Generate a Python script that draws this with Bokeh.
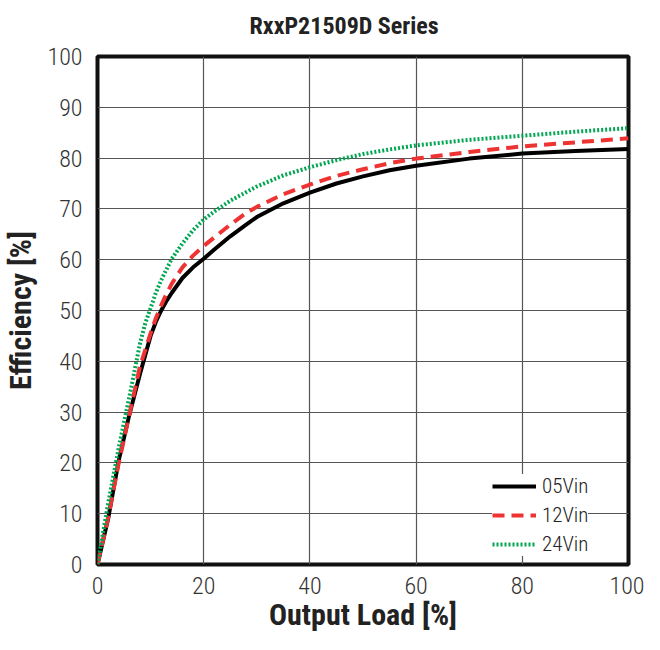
from bokeh.plotting import figure
from bokeh.models import Legend, LegendItem, FixedTicker, Range1d, Title
from bokeh.embed import file_html
from bokeh.resources import INLINE

load_05 = [0, 2, 4, 6, 8, 10, 11, 12, 13, 14, 16, 18, 20, 22, 25, 28, 30, 35, 40, 45, 50, 55, 60, 70, 80, 90, 100]
eff_05vin = [0, 9, 20.5, 29.5, 37.5, 45, 47.8, 50, 51.9, 53.5, 56.4, 58.5, 60.2, 62, 64.6, 66.9, 68.4, 71.1, 73.2, 75, 76.4, 77.6, 78.5, 79.9, 80.9, 81.4, 81.8]
load_12 = [0, 2, 4, 6, 8, 10, 11, 12, 13, 14, 16, 18, 20, 22, 25, 28, 30, 35, 40, 45, 50, 55, 60, 70, 80, 90, 100]
eff_12vin = [0, 9.2, 20, 29.5, 39, 45.5, 48.5, 51, 53.3, 55.3, 58.5, 60.8, 62.7, 64.4, 66.9, 69.2, 70.4, 72.9, 74.8, 76.5, 77.8, 79, 79.9, 81.2, 82.3, 83.1, 83.9]
load_24 = [0, 2, 4, 6, 8, 9, 10, 11, 12, 14, 16, 18, 20, 22, 25, 28, 30, 35, 40, 45, 50, 55, 60, 70, 80, 90, 100]
eff_24vin = [0, 12, 23, 33, 43.5, 47.5, 50.5, 53.5, 56, 60.2, 63.2, 65.8, 67.9, 69.5, 71.6, 73.3, 74.4, 76.6, 78.2, 79.6, 80.8, 81.7, 82.5, 83.6, 84.4, 85.2, 85.9]
labels = ["05Vin", "12Vin", "24Vin"]
x_ticks = [0, 20, 40, 60, 80, 100]
y_ticks = [0, 10, 20, 30, 40, 50, 60, 70, 80, 90, 100]
title_text = "RxxP21509D Series"

NARROW = "Roboto Condensed"
NARROW_LIGHT = "Roboto Condensed Light, Roboto Condensed"

p = figure(width=644, height=634, output_backend="svg", toolbar_location=None,
           x_range=Range1d(0, 100), y_range=Range1d(0, 100),
           min_border_left=97, min_border_right=16, min_border_top=56, min_border_bottom=68)
# real title (outer) and a thin spacer title added later, which sits next to the frame
p.title = Title(text=title_text, align="left", offset=152,
                text_font=NARROW, text_font_size="24px", text_font_style="bold",
                text_color="#222222", standoff=16)
p.add_layout(Title(text=" ", text_font_size="1px", standoff=6), "above")

p.outline_line_color = "#111111"
p.outline_line_width = 4
p.background_fill_color = "white"
p.border_fill_color = "white"

for ax in (p.xaxis[0], p.yaxis[0]):
    ax.axis_line_color = None
    ax.major_tick_line_color = None
    ax.minor_tick_line_color = None
    ax.major_label_text_font = NARROW_LIGHT
    ax.major_label_text_font_size = "24px"
    ax.major_label_text_color = "#333333"
    ax.axis_label_text_font = NARROW
    ax.axis_label_text_font_style = "bold"
    ax.axis_label_text_color = "#222222"
    ax.axis_label_text_font_size = "30px"

p.xaxis.ticker = FixedTicker(ticks=x_ticks)
p.yaxis.ticker = FixedTicker(ticks=y_ticks)
p.xaxis.axis_label = "Output Load [%]"
p.yaxis.axis_label = "Efficiency [%]"
p.xaxis.major_label_standoff = 6
p.yaxis.major_label_standoff = 9
p.xaxis.axis_label_standoff = 0
p.yaxis.axis_label_standoff = 6

p.xgrid.ticker = FixedTicker(ticks=x_ticks)
p.ygrid.ticker = FixedTicker(ticks=y_ticks)
p.xgrid.grid_line_color = "#555555"
p.ygrid.grid_line_color = "#555555"
p.xgrid.grid_line_width = 1.2
p.ygrid.grid_line_width = 1.2

r1 = p.line(load_05, eff_05vin, line_color="black", line_width=4)
r2 = p.line(load_12, eff_12vin, line_color="#ee3333", line_width=4, line_dash="12 7")
r3 = p.line(load_24, eff_24vin, line_color="#00a651", line_width=4, line_dash="2 2")

legend = Legend(items=[LegendItem(label=labels[0], renderers=[r1]),
                       LegendItem(label=labels[1], renderers=[r2]),
                       LegendItem(label=labels[2], renderers=[r3])],
                location=(395, 8), orientation="vertical",
                glyph_width=44, glyph_height=20, label_height=20, spacing=5,
                label_standoff=6, padding=5, margin=0,
                label_text_font=NARROW_LIGHT, label_text_font_size="21px",
                label_text_color="#222222",
                border_line_color=None, background_fill_color="white", background_fill_alpha=1)
p.add_layout(legend, "center")

open("out.html", "w").write(file_html(p, INLINE))
